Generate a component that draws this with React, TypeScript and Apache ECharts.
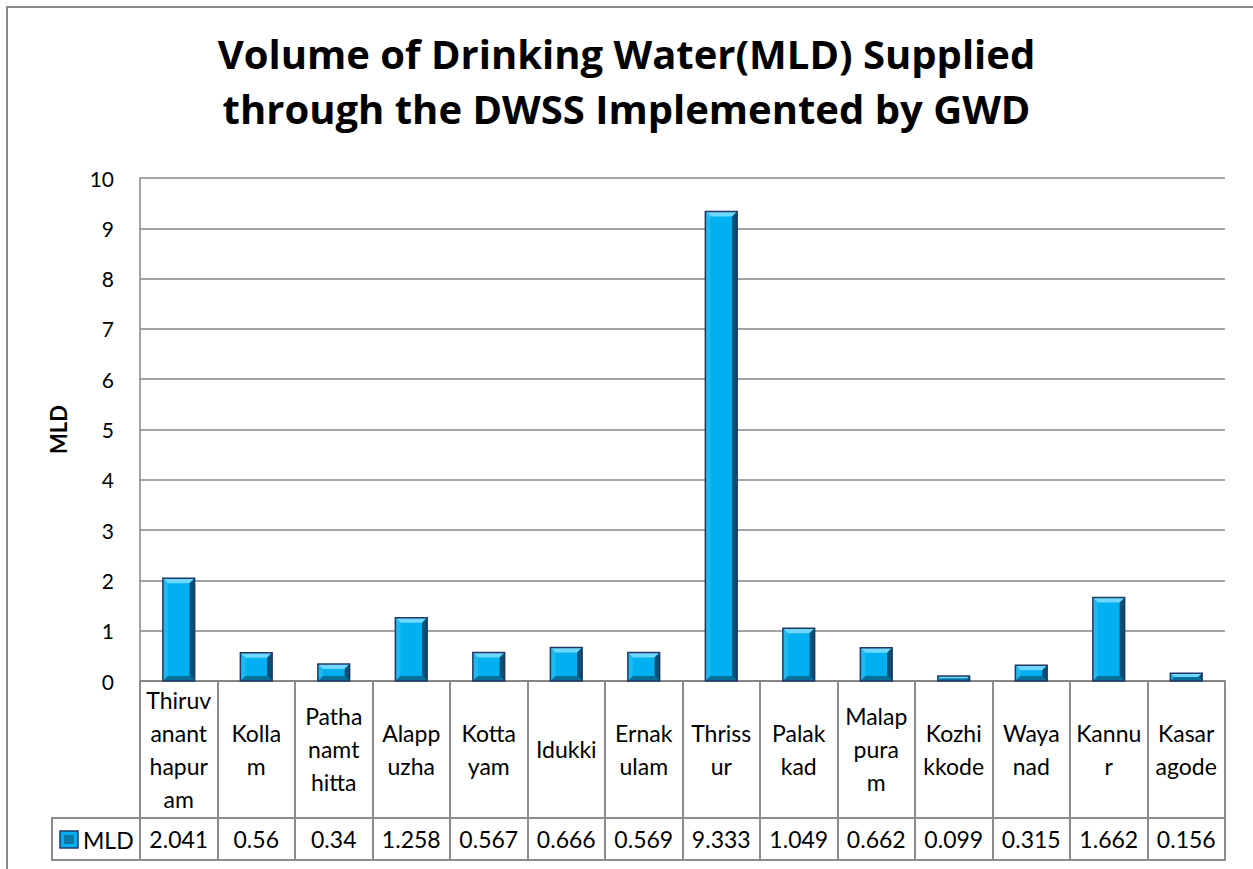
import React, { useEffect, useRef } from "react";
import * as echarts from "echarts";

const titleLines = [
  "Volume of Drinking Water(MLD) Supplied",
  "through the DWSS Implemented by GWD",
];
const seriesName = "MLD";
const yAxisName = "MLD";
const categories = [
  "Thiruvananthapuram", "Kollam", "Pathanamthitta", "Alappuzha", "Kottayam",
  "Idukki", "Ernakulam", "Thrissur", "Palakkad", "Malappuram",
  "Kozhikkode", "Wayanad", "Kannur", "Kasaragode",
];
// wrapped tick labels as shown in the data table
const tickLabels = [
  "Thiruv\nanant\nhapur\nam", "Kolla\nm", "Patha\nnamt\nhitta", "Alapp\nuzha", "Kotta\nyam",
  "Idukki", "Ernak\nulam", "Thriss\nur", "Palak\nkad", "Malap\npura\nm",
  "Kozhi\nkkode", "Waya\nnad", "Kannu\nr", "Kasar\nagode",
];
const values = [2.041, 0.56, 0.34, 1.258, 0.567, 0.666, 0.569, 9.333, 1.049, 0.662, 0.099, 0.315, 1.662, 0.156];
const yMin = 0;
const yMax = 10;
const yInterval = 1;

const FONT = "Lato, 'Open Sans', sans-serif";
const TITLE_FONT = "'Open Sans', Lato, sans-serif";
const GRID = "#868686";
const TABLE = "#8c8c8c";

export default function App() {
  const ref = useRef<HTMLDivElement>(null);
  useEffect(() => {
    if (!ref.current) return;
    const chart = echarts.init(ref.current, null, { renderer: "svg" });
    const option: any = {
      animation: false,
      backgroundColor: "#ffffff",
      title: {
        text: titleLines.join("\n"),
        left: "center",
        top: 21,
        padding: [5, 0, 5, 20],
        textStyle: {
          fontFamily: TITLE_FONT,
          fontWeight: "bold",
          fontSize: 40,
          lineHeight: 55,
          color: "#000000",
        },
      },
      grid: { left: 140, right: 28, top: 178, bottom: 188, containLabel: false },
      xAxis: [
        {
          type: "category",
          data: categories,
          position: "bottom",
          axisLine: { show: true, lineStyle: { color: GRID, width: 2 } },
          axisTick: { show: true, interval: 0, length: 179, alignWithLabel: false, lineStyle: { color: TABLE, width: 2 } },
          axisLabel: {
            interval: 0,
            margin: 68,
            verticalAlign: "middle",
            fontFamily: FONT,
            fontSize: 23,
            lineHeight: 33,
            color: "#000000",
            formatter: (_v: string, i: number) => tickLabels[i],
          },
          splitLine: { show: false },
        },
        {
          type: "category",
          data: categories,
          position: "bottom",
          offset: 137,
          axisLine: { show: true, lineStyle: { color: TABLE, width: 2 } },
          axisTick: { show: false },
          axisLabel: {
            interval: 0,
            margin: 21,
            verticalAlign: "middle",
            fontFamily: FONT,
            fontSize: 23,
            color: "#000000",
            formatter: (_v: string, i: number) => String(values[i]),
          },
        },
        {
          type: "category",
          data: categories,
          position: "bottom",
          offset: 179,
          axisLine: { show: true, lineStyle: { color: TABLE, width: 2 } },
          axisTick: { show: false },
          axisLabel: { show: false },
        },
      ],
      yAxis: {
        type: "value",
        min: yMin,
        max: yMax,
        interval: yInterval,
        name: yAxisName,
        nameLocation: "middle",
        nameGap: 71,
        nameRotate: 90,
        nameTextStyle: { fontFamily: FONT, fontWeight: "bold", fontSize: 22, color: "#000000" },
        axisLine: { show: true, lineStyle: { color: GRID, width: 1.5 } },
        axisTick: { show: false },
        axisLabel: { margin: 26, fontFamily: FONT, fontSize: 21, color: "#000000" },
        splitLine: { show: true, lineStyle: { color: GRID, width: 1.5 } },
      },
      graphic: [
        {
          type: "rect",
          shape: { x: 7, y: 7, width: 1300, height: 1000 },
          style: { fill: "none", stroke: "#8a8a8a", lineWidth: 2 },
          silent: true,
        },
        {
          type: "rect",
          shape: { x: 52, y: 818, width: 88, height: 42 },
          style: { fill: "none", stroke: TABLE, lineWidth: 2 },
          silent: true,
        },
        {
          type: "rect",
          shape: { x: 60, y: 831, width: 18, height: 17 },
          style: { fill: "#00b0f0", stroke: "#1f3864", lineWidth: 1.5 },
          silent: true,
        },
        {
          type: "rect",
          shape: { x: 64, y: 835, width: 10, height: 9 },
          style: { fill: "#0a79a8", stroke: "none" },
          silent: true,
        },
        {
          type: "text",
          x: 83,
          y: 840,
          style: {
            text: seriesName,
            fontFamily: FONT,
            fontSize: 23,
            fill: "#000000",
            verticalAlign: "middle",
            align: "left",
          },
          silent: true,
        },
      ],
      series: [
        {
          type: "custom",
          name: seriesName,
          xAxisIndex: 0,
          yAxisIndex: 0,
          data: values.map((v, i) => [i, v]),
          encode: { x: 0, y: 1 },
          renderItem: (_params: any, api: any) => {
            const idx = api.value(0);
            const v = api.value(1);
            const pt = api.coord([idx, v]);
            const p0 = api.coord([idx, 0]);
            const w = api.size([1, 0])[0] * 0.41;
            const x0 = pt[0] - w / 2;
            const x1 = pt[0] + w / 2;
            const yt = pt[1];
            const yb = p0[1];
            const h = yb - yt;
            const b = Math.max(0, Math.min(5, h / 2, w / 2));
            return {
              type: "group",
              children: [
                { type: "rect", shape: { x: x0, y: yt, width: w, height: h }, style: { fill: "#00b0f0" } },
                { type: "polygon", shape: { points: [[x0, yt], [x1, yt], [x1 - b, yt + b], [x0 + b, yt + b]] }, style: { fill: "#6fd8ff" } },
                { type: "polygon", shape: { points: [[x0, yt], [x0 + b, yt + b], [x0 + b, yb - b], [x0, yb]] }, style: { fill: "#1fb9ee" } },
                { type: "polygon", shape: { points: [[x1, yt], [x1, yb], [x1 - b, yb - b], [x1 - b, yt + b]] }, style: { fill: "#0a4f75" } },
                { type: "polygon", shape: { points: [[x0, yb], [x1, yb], [x1 - b, yb - b], [x0 + b, yb - b]] }, style: { fill: "#0a6f98" } },
                { type: "rect", shape: { x: x0, y: yt, width: w, height: h }, style: { fill: "none", stroke: "#1f3864", lineWidth: 1.5 } },
              ],
            };
          },
        },
      ],
    };
    chart.setOption(option);
    return () => chart.dispose();
  }, []);
  return (
    <div
      ref={ref}
      style={{ position: "fixed", left: 0, top: 0, width: 1253, height: 869, background: "#fff" }}
    />
  );
}
